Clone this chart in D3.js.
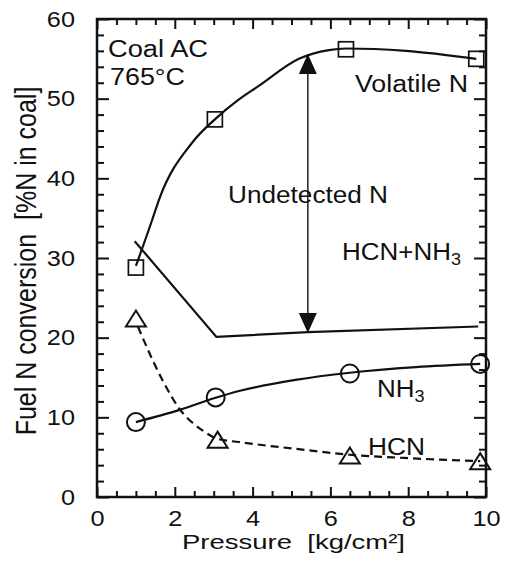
<!DOCTYPE html>
<html>
<head>
<meta charset="utf-8">
<script src="https://cdn.jsdelivr.net/npm/d3@7"></script>
<style>
  body { margin: 0; background: #fff; }
  svg { display: block; font-family: "Liberation Sans", Arial, sans-serif; }
  text { fill: #111; white-space: pre; }
</style>
</head>
<body>
<div id="chart"></div>
<script>
// measured points (pressure kg/cm2, % N in coal)
const volatilePts = [[1.0, 28.8], [3.03, 47.4], [6.4, 56.2], [9.75, 55.0]];
const volatileFit = [[1.0, 29], [1.42, 34.8], [1.6, 37.4], [2.45, 44.5], [3.03, 47.4], [3.65, 49.9],
  [4.16, 51.6], [5.19, 55.0], [5.96, 56.1], [6.4, 56.3], [7.94, 56.0], [9.75, 55.0]];

const hcnNh3Line = [[0.97, 32.1], [3.07, 20.1], [5.42, 20.7], [9.8, 21.4]];

const nh3Pts = [[1.0, 9.4], [3.05, 12.5], [6.5, 15.5], [9.85, 16.7]];
const nh3Fit = [[1.0, 9.4], [2.1, 10.9], [3.05, 12.45], [3.65, 13.3], [5.1, 14.7], [6.5, 15.6], [8.2, 16.3], [9.85, 16.7]];

const hcnPts = [[1.0, 22.4], [3.1, 7.2], [6.5, 5.2], [9.85, 4.5]];
const hcnFit = [[1.05, 21.4], [1.68, 14.7], [2.1, 11.2], [2.7, 8.4], [3.1, 7.3], [3.65, 6.9],
  [5.37, 5.9], [6.5, 5.3], [7.9, 4.9], [9.85, 4.5]];

// undetected N arrow
const arrowX = 5.42, arrowTop = 55.6, arrowBottom = 20.6;

const xMajor = [0, 2, 4, 6, 8, 10];
const xMinor = d3.range(0.5, 10, 0.5).filter(v => v % 2 !== 0);
const yMajor = [0, 10, 20, 30, 40, 50, 60];
const yMinor = d3.range(2, 60, 2).filter(v => v % 10 !== 0);

const W = 505, H = 563;
const svg = d3.select("#chart").append("svg").attr("width", W).attr("height", H);

const x = d3.scaleLinear().domain([0, 10]).range([97, 486]);
const y = d3.scaleLinear().domain([0, 60]).range([497, 19]);

const stretch = function (k) {
  return function () {
    const w = this.getComputedTextLength();
    d3.select(this).attr("textLength", w * k).attr("lengthAdjust", "spacingAndGlyphs");
  };
};

// axes with inward ticks
// bottom
svg.append("g").attr("transform", `translate(0,${y(0)})`)
  .call(d3.axisBottom(x).tickValues(xMajor).tickSize(-10).tickPadding(13).tickFormat(d3.format("d")));
svg.append("g").attr("transform", `translate(0,${y(0)})`)
  .call(d3.axisBottom(x).tickValues(xMinor).tickSize(-6).tickFormat(""));
// top
svg.append("g").attr("transform", `translate(0,${y(60)})`)
  .call(d3.axisTop(x).tickValues(xMajor).tickSize(-10).tickFormat(""));
svg.append("g").attr("transform", `translate(0,${y(60)})`)
  .call(d3.axisTop(x).tickValues(xMinor).tickSize(-6).tickFormat(""));
// left
svg.append("g").attr("transform", `translate(${x(0)},0)`)
  .call(d3.axisLeft(y).tickValues(yMajor).tickSize(-12).tickPadding(22).tickFormat(d3.format("d")));
svg.append("g").attr("transform", `translate(${x(0)},0)`)
  .call(d3.axisLeft(y).tickValues(yMinor).tickSize(-7).tickFormat(""));
// right
svg.append("g").attr("transform", `translate(${x(10)},0)`)
  .call(d3.axisRight(y).tickValues(yMajor).tickSize(-12).tickFormat(""));
svg.append("g").attr("transform", `translate(${x(10)},0)`)
  .call(d3.axisRight(y).tickValues(yMinor).tickSize(-7).tickFormat(""));

svg.selectAll(".domain").remove();
svg.selectAll(".tick line").attr("stroke", "#111").attr("stroke-width", 2);
svg.selectAll(".tick text").attr("font-size", 22).attr("font-family", "Liberation Sans, Arial, sans-serif")
  .attr("fill", "#111").each(stretch(1.15));

svg.append("rect")
  .attr("x", x(0)).attr("y", y(60))
  .attr("width", x(10) - x(0)).attr("height", y(0) - y(60))
  .attr("fill", "none").attr("stroke", "#111").attr("stroke-width", 2.5);

// lines
const line = d3.line().x(d => x(d[0])).y(d => y(d[1]));
const smooth = d3.line().x(d => x(d[0])).y(d => y(d[1])).curve(d3.curveMonotoneX);

svg.append("path").datum(volatileFit).attr("d", smooth)
  .attr("fill", "none").attr("stroke", "#111").attr("stroke-width", 2.2);
svg.append("path").datum(hcnNh3Line).attr("d", line)
  .attr("fill", "none").attr("stroke", "#111").attr("stroke-width", 2.2);
svg.append("path").datum(nh3Fit).attr("d", smooth)
  .attr("fill", "none").attr("stroke", "#111").attr("stroke-width", 2.2);
svg.append("path").datum(hcnFit).attr("d", smooth)
  .attr("fill", "none").attr("stroke", "#111").attr("stroke-width", 2.2)
  .attr("stroke-dasharray", "8,5");

// arrow
svg.append("line")
  .attr("x1", x(arrowX)).attr("x2", x(arrowX))
  .attr("y1", y(arrowTop) + 10).attr("y2", y(arrowBottom) - 10)
  .attr("stroke", "#111").attr("stroke-width", 1.4);
svg.append("path")
  .attr("d", `M${x(arrowX)},${y(arrowTop)} l9,20 l-18,0 Z`).attr("fill", "#111");
svg.append("path")
  .attr("d", `M${x(arrowX)},${y(arrowBottom)} l9,-20 l-18,0 Z`).attr("fill", "#111");

// markers
svg.selectAll(".sq").data(volatilePts).enter().append("rect")
  .attr("x", d => x(d[0]) - 7.5).attr("y", d => y(d[1]) - 7.5)
  .attr("width", 15).attr("height", 15)
  .attr("fill", "none").attr("stroke", "#111").attr("stroke-width", 1.7);
svg.selectAll(".ci").data(nh3Pts).enter().append("circle")
  .attr("cx", d => x(d[0])).attr("cy", d => y(d[1])).attr("r", 9)
  .attr("fill", "none").attr("stroke", "#111").attr("stroke-width", 2);
svg.selectAll(".tr").data(hcnPts).enter().append("path")
  .attr("transform", d => `translate(${x(d[0])},${y(d[1])})`)
  .attr("d", "M0,-8 L10,8 L-10,8 Z")
  .attr("fill", "none").attr("stroke", "#111").attr("stroke-width", 2);

// labels
function label(txt, lx, ly, size, width) {
  return svg.append("text").attr("x", lx).attr("y", ly).attr("font-size", size)
    .attr("textLength", width).attr("lengthAdjust", "spacingAndGlyphs").text(txt);
}
label("Coal AC", 108, 57, 23, 100);
label("765°C", 110, 85, 23, 75);
label("Volatile N", 355, 92, 23, 113);
label("Undetected N", 228, 203, 23, 160);
label("HCN", 368, 455, 23, 57);
label("Pressure  [kg/cm²]", 182, 549, 21, 223);

function subLabel(main, sub, lx, ly) {
  const t = svg.append("text").attr("transform", `translate(${lx},${ly}) scale(1.13,1)`)
    .attr("font-size", 23);
  t.append("tspan").text(main);
  t.append("tspan").attr("font-size", 16).attr("dy", 5).text(sub);
}
subLabel("HCN+NH", "3", 342, 260);
subLabel("NH", "3", 377, 397);

svg.append("text")
  .attr("transform", "translate(36,261) scale(1.2,1) rotate(-90)")
  .attr("text-anchor", "middle").attr("font-size", 25)
  .text("Fuel N conversion  [%N in coal]");
</script>
</body>
</html>
